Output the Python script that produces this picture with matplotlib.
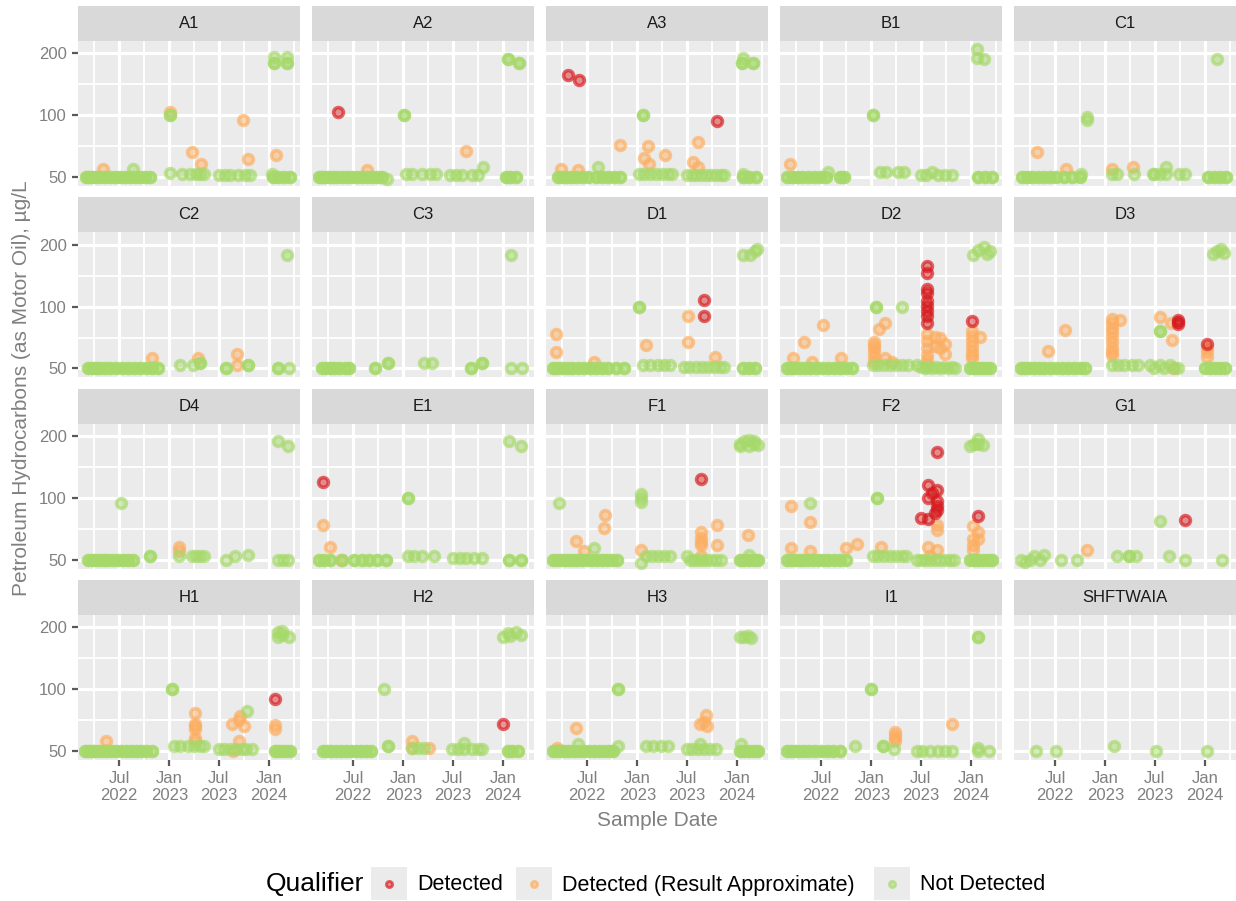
import numpy as np
import pandas as pd
import matplotlib
matplotlib.use("Agg")
import matplotlib.pyplot as plt
import matplotlib.dates as mdates
from matplotlib.ticker import FixedLocator, FixedFormatter, NullFormatter
from matplotlib.patches import Rectangle
from matplotlib.colors import to_rgba

plt.rcParams['font.family'] = ['Liberation Sans', 'DejaVu Sans']

# Qualifier codes: D = Detected, J = Detected (Result Approximate), N = Not Detected
# *_base : sampling dates with Not Detected results at the 50 ug/L reporting limit
#          (BASE_REPEATS results per date: the clusters in the chart are fully overlapped)
# *_pts  : every other result as (date, value, qualifier)
BASE_REPEATS = 2

a1_base = ["2022-03-02", "2022-03-13", "2022-03-24", "2022-04-08", "2022-04-23", "2022-05-10", "2022-05-29",
           "2022-06-16", "2022-07-05", "2022-07-23", "2022-08-10", "2022-08-29", "2022-09-16", "2022-10-04",
           "2022-10-23", "2024-01-16", "2024-02-03", "2024-02-25", "2024-03-18"]
a1_pts = [("2022-05-04", 55, "J"), ("2022-08-21", 55, "N"),
          ("2023-01-04", 100, "N"), ("2023-01-04", 100, "N"), ("2023-01-04", 104, "J"), ("2023-01-04", 52.6, "N"),
          ("2023-02-17", 52, "N"), ("2023-03-18", 52, "N"), ("2023-04-09", 52, "N"), ("2023-04-24", 52, "N"),
          ("2023-05-08", 52, "N"), ("2023-03-25", 66, "J"), ("2023-04-27", 58, "J"),
          ("2023-07-02", 51, "N"), ("2023-07-24", 51, "N"), ("2023-08-11", 51, "N"), ("2023-09-10", 51, "N"),
          ("2023-10-05", 51, "N"), ("2023-10-24", 51, "N"), ("2023-09-28", 95, "J"), ("2023-10-16", 61, "J"),
          ("2024-01-19", 179, "N"), ("2024-01-19", 179, "N"), ("2024-01-19", 192, "N"),
          ("2024-03-07", 179, "N"), ("2024-03-07", 179, "N"), ("2024-03-07", 192, "N"),
          ("2024-01-27", 64, "J"), ("2024-01-12", 52, "N")]

a2_base = ["2022-02-27", "2022-03-10", "2022-03-21", "2022-04-04", "2022-04-19", "2022-05-04", "2022-05-22",
           "2022-06-09", "2022-06-27", "2022-07-16", "2022-08-03", "2022-08-21", "2022-09-09", "2022-09-27",
           "2022-10-15", "2024-01-12", "2024-01-27", "2024-02-18"]
a2_pts = [("2022-11-03", 49, "N"), ("2022-05-07", 104, "D"), ("2022-08-21", 54, "J"),
          ("2023-01-04", 100, "N"), ("2023-01-04", 100, "N"),
          ("2023-01-11", 52, "N"), ("2023-02-02", 52, "N"), ("2023-03-11", 52, "N"), ("2023-04-09", 52, "N"),
          ("2023-05-01", 52, "N"), ("2023-08-19", 67, "J"),
          ("2023-06-21", 51, "N"), ("2023-07-13", 51, "N"), ("2023-08-04", 51, "N"), ("2023-09-10", 51, "N"),
          ("2023-10-02", 51, "N"), ("2023-10-20", 56, "N"),
          ("2024-01-19", 189, "N"), ("2024-01-19", 189, "N"), ("2024-02-28", 179, "N"), ("2024-02-28", 179, "N")]

a3_base = ["2022-03-17", "2022-04-01", "2022-04-15", "2022-05-04", "2022-05-22", "2022-06-13", "2022-07-05",
           "2022-08-03", "2022-08-25", "2022-09-16", "2022-10-08", "2022-10-30", "2024-01-23", "2024-02-14",
           "2024-03-11"]
a3_pts = [("2022-03-28", 55, "J"), ("2022-05-29", 54, "J"), ("2022-08-10", 56, "N"),
          ("2022-04-23", 158, "D"), ("2022-06-01", 149, "D"), ("2022-10-30", 72, "J"),
          ("2023-01-22", 100, "N"), ("2023-01-22", 100, "N"),
          ("2023-02-09", 71, "J"), ("2023-01-26", 62, "J"), ("2023-02-13", 58, "J"), ("2023-04-12", 64, "J"),
          ("2023-01-08", 52, "N"), ("2023-01-26", 52, "N"), ("2023-02-17", 52, "N"), ("2023-03-11", 52, "N"),
          ("2023-04-02", 52, "N"), ("2023-04-24", 52, "N"), ("2023-05-08", 52, "N"),
          ("2023-08-11", 74, "J"), ("2023-10-20", 94, "D"), ("2023-07-24", 59, "J"), ("2023-08-11", 56, "J"),
          ("2023-07-02", 51, "N"), ("2023-07-20", 51, "N"), ("2023-08-04", 51, "N"), ("2023-08-22", 51, "N"),
          ("2023-09-10", 51, "N"), ("2023-09-28", 51, "N"), ("2023-10-16", 51, "N"), ("2023-11-04", 51, "N"),
          ("2023-11-14", 51, "N"),
          ("2024-01-19", 179, "N"), ("2024-01-19", 179, "N"), ("2024-02-28", 179, "N"), ("2024-02-28", 179, "N"),
          ("2024-01-23", 190, "N"), ("2024-01-23", 52, "N")]

b1_base = ["2022-02-27", "2022-03-17", "2022-04-04", "2022-04-23", "2022-05-14", "2022-06-05", "2022-06-27",
           "2022-07-19", "2022-09-09", "2022-09-23", "2024-01-27", "2024-02-21", "2024-03-18"]
b1_pts = [("2022-03-10", 58, "J"), ("2022-07-27", 53, "N"),
          ("2023-01-08", 100, "N"), ("2023-01-08", 100, "N"),
          ("2023-02-02", 53, "N"), ("2023-02-24", 53, "N"), ("2023-04-09", 53, "N"), ("2023-05-01", 53, "N"),
          ("2023-07-02", 51, "N"), ("2023-07-20", 51, "N"), ("2023-08-11", 53, "N"), ("2023-09-02", 51, "N"),
          ("2023-09-28", 51, "N"), ("2023-10-24", 51, "N"),
          ("2024-01-23", 211, "N"), ("2024-01-23", 190, "N"), ("2024-02-18", 189, "N")]

c1_base = ["2022-03-02", "2022-03-21", "2022-04-08", "2022-04-30", "2022-05-22", "2022-06-13", "2022-07-05",
           "2022-08-03", "2022-09-01", "2022-10-01", "2024-01-12", "2024-02-03", "2024-02-25", "2024-03-18"]
c1_pts = [("2022-04-26", 66, "J"), ("2022-08-10", 55, "J"), ("2022-10-05", 52, "N"),
          ("2022-10-27", 95, "N"), ("2022-10-27", 98, "N"),
          ("2023-01-26", 55, "J"), ("2023-04-12", 56, "J"),
          ("2023-01-26", 52, "N"), ("2023-02-13", 52, "N"), ("2023-04-16", 52, "N"), ("2023-06-28", 52, "N"),
          ("2023-07-20", 52, "N"), ("2023-08-11", 52, "N"), ("2023-09-28", 52, "N"), ("2023-10-20", 52, "N"),
          ("2023-06-24", 52, "N"), ("2023-08-11", 56, "N"), ("2024-02-14", 189, "N")]

c2_base = ["2022-03-10", "2022-03-24", "2022-04-08", "2022-04-23", "2022-05-11", "2022-05-29", "2022-06-20",
           "2022-07-12", "2022-08-03", "2022-08-25", "2022-09-16", "2022-10-08", "2022-10-30", "2022-11-21"]
c2_pts = [("2022-10-30", 56, "J"),
          ("2023-02-09", 52, "N"), ("2023-03-29", 52, "N"), ("2023-04-24", 53, "N"), ("2023-04-24", 53, "N"),
          ("2023-04-16", 56, "J"), ("2023-09-06", 59, "J"), ("2023-09-06", 52, "J"),
          ("2023-07-28", 50, "N"), ("2023-07-28", 50, "N"), ("2023-10-16", 52, "N"), ("2023-10-16", 52, "N"),
          ("2024-02-03", 50, "N"), ("2024-02-03", 50, "N"), ("2024-03-14", 50, "N"), ("2024-03-07", 179, "N")]

c3_base = ["2022-03-10", "2022-03-24", "2022-04-08", "2022-04-23", "2022-05-11", "2022-06-01", "2022-06-16"]
c3_pts = [("2022-09-20", 50, "N"), ("2022-09-20", 50, "N"), ("2022-11-06", 53, "N"), ("2022-11-06", 53, "N"),
          ("2023-03-18", 53, "N"), ("2023-04-16", 53, "N"),
          ("2023-09-06", 50, "N"), ("2023-09-06", 50, "N"), ("2023-10-16", 53, "N"), ("2023-10-16", 53, "N"),
          ("2024-01-30", 50, "N"), ("2024-03-11", 50, "N"), ("2024-01-30", 179, "N")]

d1_base = ["2022-02-27", "2022-03-13", "2022-04-01", "2022-04-19", "2022-05-07", "2022-05-29", "2022-06-20",
           "2022-07-12", "2022-08-03", "2022-08-25", "2022-09-16", "2022-10-15", "2022-11-13", "2024-01-23",
           "2024-02-14", "2024-03-07"]
d1_pts = [("2022-03-10", 74, "J"), ("2022-03-10", 60, "J"), ("2022-07-27", 54, "J"),
          ("2023-01-08", 100, "N"), ("2023-01-08", 100, "N"), ("2023-02-02", 65, "J"),
          ("2023-01-22", 52, "N"), ("2023-02-17", 52, "N"), ("2023-03-18", 52, "N"), ("2023-04-09", 52, "N"),
          ("2023-05-01", 52, "N"),
          ("2023-07-06", 90, "J"), ("2023-07-06", 67, "J"), ("2023-09-02", 108, "D"), ("2023-09-02", 90, "D"),
          ("2023-10-12", 57, "J"),
          ("2023-06-21", 51, "N"), ("2023-07-09", 51, "N"), ("2023-08-04", 51, "N"), ("2023-08-26", 51, "N"),
          ("2023-09-17", 51, "N"), ("2023-10-09", 51, "N"), ("2023-10-31", 51, "N"), ("2023-11-14", 51, "N"),
          ("2024-01-23", 179, "N"), ("2024-02-18", 179, "N"), ("2024-03-07", 186, "N"), ("2024-03-14", 190, "N")]

d2_base = ["2022-02-27", "2022-03-13", "2022-03-28", "2022-04-15", "2022-05-04", "2022-05-22", "2022-06-13",
           "2022-07-05", "2022-07-27", "2022-08-18", "2022-09-09", "2022-10-01", "2022-10-23", "2023-12-28",
           "2024-01-12", "2024-01-27", "2024-02-10", "2024-02-25", "2024-03-11"]
d2_pts = [("2022-03-21", 56, "J"), ("2022-04-30", 67, "J"), ("2022-05-29", 54, "J"), ("2022-07-08", 81, "J"),
          ("2022-09-13", 56, "J"),
          ("2023-01-11", 54, "J"), ("2023-01-11", 57, "J"), ("2023-01-11", 60, "J"), ("2023-01-11", 63, "J"),
          ("2023-01-11", 65, "J"), ("2023-01-11", 67, "J"),
          ("2023-01-29", 78, "J"), ("2023-02-20", 83, "J"), ("2023-02-20", 56, "J"), ("2023-03-18", 54, "J"),
          ("2023-01-18", 100, "N"), ("2023-01-18", 100, "N"), ("2023-04-24", 100, "N"),
          ("2023-01-08", 52, "N"), ("2023-01-26", 52, "N"), ("2023-02-17", 52, "N"), ("2023-03-11", 52, "N"),
          ("2023-04-02", 52, "N"), ("2023-04-24", 52, "N"), ("2023-05-15", 52, "N"),
          ("2023-07-24", 158, "D"), ("2023-07-24", 145, "D"), ("2023-07-24", 122, "D"), ("2023-07-24", 116, "D"),
          ("2023-07-24", 106, "D"), ("2023-07-24", 101, "D"), ("2023-07-24", 95, "D"), ("2023-07-24", 90, "D"),
          ("2023-07-24", 83, "D"),
          ("2023-07-24", 74, "J"), ("2023-07-24", 68, "J"), ("2023-07-24", 63, "J"), ("2023-07-24", 58, "J"),
          ("2023-07-24", 55, "J"), ("2023-07-24", 52, "J"),
          ("2023-08-22", 71, "J"), ("2023-08-22", 64, "J"), ("2023-09-10", 70, "J"), ("2023-09-10", 63, "J"),
          ("2023-09-28", 59, "J"), ("2023-09-28", 66, "J"),
          ("2024-01-05", 85, "D"),
          ("2024-01-05", 76, "J"), ("2024-01-05", 72, "J"), ("2024-01-05", 68, "J"), ("2024-01-05", 64, "J"),
          ("2024-01-05", 61, "J"), ("2024-01-05", 58, "J"), ("2024-01-05", 56, "J"), ("2024-02-03", 71, "J"),
          ("2023-06-17", 52, "N"), ("2023-07-02", 51, "N"), ("2023-07-17", 50, "N"), ("2023-07-28", 51, "N"),
          ("2023-08-11", 50, "N"), ("2023-08-26", 51, "N"), ("2023-09-10", 50, "N"), ("2023-09-24", 51, "N"),
          ("2023-10-09", 50, "N"), ("2023-10-24", 51, "N"), ("2023-11-04", 50, "N"),
          ("2024-01-08", 179, "N"), ("2024-01-27", 188, "N"), ("2024-02-18", 194, "N"), ("2024-03-11", 186, "N"),
          ("2024-02-28", 180, "N")]

d3_base = ["2022-02-27", "2022-03-13", "2022-03-28", "2022-04-15", "2022-05-04", "2022-05-22", "2022-06-13",
           "2022-07-05", "2022-07-27", "2022-08-18", "2022-09-09", "2022-10-01", "2022-10-19", "2024-01-01",
           "2024-01-19", "2024-02-06", "2024-02-25", "2024-03-14"]
d3_pts = [("2022-06-05", 61, "J"), ("2022-08-07", 77, "J"),
          ("2023-01-26", 87, "J"), ("2023-01-26", 83, "J"), ("2023-01-26", 79, "J"), ("2023-01-26", 75, "J"),
          ("2023-01-26", 71, "J"), ("2023-01-26", 67, "J"), ("2023-01-26", 63, "J"), ("2023-01-26", 60, "J"),
          ("2023-01-26", 58, "J"), ("2023-02-24", 86, "J"),
          ("2023-01-26", 52, "N"), ("2023-02-17", 52, "N"), ("2023-03-11", 52, "N"), ("2023-04-09", 52, "N"),
          ("2023-05-01", 52, "N"),
          ("2023-07-20", 89, "J"), ("2023-08-30", 83, "J"), ("2023-07-20", 76, "N"), ("2023-07-20", 76, "N"),
          ("2023-09-02", 69, "J"), ("2023-09-24", 82, "D"), ("2023-09-24", 84, "D"), ("2023-09-24", 86, "D"),
          ("2023-09-06", 50, "J"),
          ("2023-06-14", 52, "N"), ("2023-06-28", 50, "N"), ("2023-07-20", 52, "N"), ("2023-08-04", 50, "N"),
          ("2023-08-26", 52, "N"), ("2023-09-10", 50, "N"), ("2023-09-24", 50, "N"),
          ("2024-01-08", 66, "D"), ("2024-01-08", 63, "J"), ("2024-01-08", 60, "J"), ("2024-01-08", 57, "J"),
          ("2024-01-30", 181, "N"), ("2024-02-14", 186, "N"), ("2024-02-28", 190, "N"), ("2024-03-11", 183, "N")]

d4_base = ["2022-03-10", "2022-03-24", "2022-04-08", "2022-04-23", "2022-05-07", "2022-05-22", "2022-06-09",
           "2022-06-27", "2022-07-16", "2022-08-03", "2022-08-21"]
d4_pts = [("2022-07-08", 95, "N"), ("2022-10-23", 52, "N"), ("2022-10-23", 52, "N"),
          ("2023-02-06", 58, "J"), ("2023-02-06", 55, "J"), ("2023-02-06", 52, "N"),
          ("2023-03-25", 52, "N"), ("2023-04-09", 52, "N"), ("2023-04-24", 52, "N"), ("2023-05-08", 52, "N"),
          ("2023-07-28", 50, "N"), ("2023-08-30", 52, "N"), ("2023-10-16", 53, "N"),
          ("2024-02-03", 189, "N"), ("2024-03-11", 179, "N"),
          ("2024-02-03", 50, "N"), ("2024-02-21", 50, "N"), ("2024-03-11", 50, "N")]

e1_base = ["2022-02-27", "2022-03-17", "2022-04-08", "2022-05-22", "2022-07-05", "2022-08-03", "2022-08-29",
           "2022-09-27", "2022-10-30"]
e1_pts = [("2022-03-13", 120, "D"), ("2022-03-13", 74, "J"), ("2022-04-08", 58, "J"), ("2022-05-18", 50, "J"),
          ("2023-01-18", 100, "N"), ("2023-01-18", 100, "N"),
          ("2023-01-18", 52, "N"), ("2023-02-09", 52, "N"), ("2023-03-11", 52, "N"), ("2023-04-24", 52, "N"),
          ("2023-07-02", 51, "N"), ("2023-07-28", 51, "N"), ("2023-08-19", 51, "N"), ("2023-09-17", 51, "N"),
          ("2023-10-16", 51, "N"),
          ("2024-01-23", 189, "N"), ("2024-03-07", 179, "N"),
          ("2024-01-23", 50, "N"), ("2024-01-23", 50, "N"), ("2024-03-07", 50, "N"), ("2024-03-07", 50, "N")]

f1_base = ["2022-02-27", "2022-03-13", "2022-03-28", "2022-04-11", "2022-04-26", "2022-05-11", "2022-05-25",
           "2022-06-13", "2022-07-01", "2022-07-19", "2022-08-07", "2022-08-25", "2022-09-13", "2022-10-01",
           "2022-10-19", "2024-01-12", "2024-01-27", "2024-02-14", "2024-03-03", "2024-03-18"]
f1_pts = [("2022-03-21", 95, "N"), ("2022-05-22", 62, "J"), ("2022-06-20", 55, "J"), ("2022-07-27", 57, "N"),
          ("2022-09-05", 83, "J"), ("2022-09-01", 71, "J"),
          ("2023-01-15", 96, "N"), ("2023-01-15", 100, "N"), ("2023-01-15", 104, "N"), ("2023-01-15", 56, "J"),
          ("2023-01-15", 48, "N"),
          ("2023-02-02", 52, "N"), ("2023-02-24", 52, "N"), ("2023-03-18", 52, "N"), ("2023-04-09", 52, "N"),
          ("2023-05-01", 52, "N"), ("2023-07-02", 52, "N"),
          ("2023-08-22", 68, "J"), ("2023-08-22", 64, "J"), ("2023-08-22", 61, "J"), ("2023-08-22", 59, "J"),
          ("2023-08-22", 52, "J"), ("2023-08-22", 124, "D"),
          ("2023-10-20", 74, "J"), ("2023-10-20", 59, "J"),
          ("2023-07-13", 50, "N"), ("2023-07-28", 50, "N"), ("2023-08-11", 50, "N"), ("2023-08-26", 50, "N"),
          ("2023-09-10", 50, "N"), ("2023-09-28", 50, "N"), ("2023-10-16", 50, "N"), ("2023-11-04", 50, "N"),
          ("2024-02-10", 66, "J"),
          ("2024-01-12", 179, "N"), ("2024-01-12", 184, "N"), ("2024-01-27", 190, "N"), ("2024-02-14", 179, "N"),
          ("2024-02-14", 192, "N"), ("2024-03-03", 184, "N"), ("2024-03-03", 190, "N"), ("2024-03-18", 180, "N"),
          ("2024-02-14", 53, "N")]

f2_base = ["2022-02-27", "2022-03-13", "2022-03-28", "2022-04-11", "2022-04-26", "2022-05-14", "2022-06-01",
           "2022-06-20", "2022-07-08", "2022-07-27", "2022-08-18", "2022-09-09", "2022-10-01", "2023-12-28",
           "2024-01-12", "2024-01-27", "2024-02-14", "2024-03-03", "2024-03-18"]
f2_pts = [("2022-03-13", 91, "J"), ("2022-03-13", 57, "J"), ("2022-05-22", 94, "N"), ("2022-05-22", 76, "J"),
          ("2022-05-22", 55, "J"), ("2022-10-01", 57, "J"), ("2022-11-10", 60, "J"),
          ("2023-01-22", 100, "N"), ("2023-01-22", 100, "N"), ("2023-02-06", 58, "J"),
          ("2023-01-08", 52, "N"), ("2023-01-26", 52, "N"), ("2023-02-17", 52, "N"), ("2023-03-11", 52, "N"),
          ("2023-04-02", 52, "N"), ("2023-04-24", 52, "N"), ("2023-05-08", 52, "N"),
          ("2023-07-02", 80, "D"), ("2023-07-28", 79, "D"), ("2023-07-28", 116, "D"), ("2023-07-28", 100, "D"),
          ("2023-08-11", 106, "D"), ("2023-08-30", 109, "D"), ("2023-08-30", 97, "D"), ("2023-08-30", 91, "D"),
          ("2023-08-30", 87, "D"), ("2023-08-22", 84, "D"), ("2023-08-30", 167, "D"),
          ("2023-08-30", 74, "J"), ("2023-08-30", 70, "J"), ("2023-07-28", 58, "J"), ("2023-08-30", 56, "J"),
          ("2023-08-04", 52, "J"),
          ("2023-06-17", 50, "N"), ("2023-07-02", 50, "N"), ("2023-07-17", 50, "N"), ("2023-08-04", 50, "N"),
          ("2023-08-22", 50, "N"), ("2023-09-10", 50, "N"), ("2023-09-28", 50, "N"), ("2023-10-16", 50, "N"),
          ("2023-10-31", 50, "N"),
          ("2024-01-27", 82, "D"),
          ("2024-01-08", 73, "J"), ("2024-01-08", 63, "J"), ("2024-01-08", 59, "J"), ("2024-01-27", 68, "J"),
          ("2024-01-27", 63, "J"), ("2024-01-08", 56, "J"),
          ("2023-12-28", 179, "N"), ("2024-01-12", 183, "N"), ("2024-01-27", 194, "N"), ("2024-01-27", 183, "N"),
          ("2024-02-14", 180, "N")]

g1_base = []
g1_pts = [("2022-02-27", 50, "N"), ("2022-03-13", 49, "N"), ("2022-04-01", 50, "N"), ("2022-04-15", 52, "N"),
          ("2022-05-07", 50, "N"), ("2022-05-22", 53, "N"), ("2022-07-23", 50, "N"), ("2022-09-20", 50, "N"),
          ("2022-10-27", 56, "J"),
          ("2023-02-13", 52, "N"), ("2023-03-29", 52, "N"), ("2023-03-29", 52, "N"), ("2023-04-24", 52, "N"),
          ("2023-07-20", 77, "N"), ("2023-08-22", 52, "N"), ("2023-10-20", 78, "D"), ("2023-10-20", 50, "N"),
          ("2024-03-03", 50, "N")]

h1_base = ["2022-02-27", "2022-03-10", "2022-03-21", "2022-04-01", "2022-04-15", "2022-04-30", "2022-05-14",
           "2022-06-01", "2022-06-20", "2022-07-08", "2022-07-27", "2022-08-14", "2022-09-01", "2022-09-20",
           "2022-10-08", "2022-10-30", "2024-01-23", "2024-02-03", "2024-02-18", "2024-03-03", "2024-03-18"]
h1_pts = [("2022-05-14", 56, "J"),
          ("2023-01-11", 100, "N"), ("2023-01-11", 100, "N"),
          ("2023-01-18", 53, "N"), ("2023-02-09", 53, "N"), ("2023-03-11", 53, "N"), ("2023-04-02", 53, "N"),
          ("2023-04-24", 53, "N"), ("2023-05-08", 53, "N"),
          ("2023-04-05", 77, "J"), ("2023-04-05", 68, "J"), ("2023-04-05", 66, "J"), ("2023-04-05", 64, "J"),
          ("2023-04-05", 58, "J"), ("2023-04-05", 56, "J"),
          ("2023-07-02", 51, "N"), ("2023-07-20", 51, "N"), ("2023-08-11", 51, "N"), ("2023-09-02", 51, "N"),
          ("2023-09-24", 51, "N"), ("2023-10-09", 51, "N"), ("2023-10-31", 51, "N"),
          ("2023-08-19", 68, "J"), ("2023-09-17", 74, "J"), ("2023-10-02", 66, "J"), ("2023-09-13", 71, "J"),
          ("2023-09-13", 56, "J"), ("2023-08-22", 50, "J"), ("2023-10-12", 78, "N"),
          ("2024-01-23", 90, "D"), ("2024-01-23", 67, "J"), ("2024-01-23", 64, "J"),
          ("2024-02-03", 180, "N"), ("2024-02-03", 190, "N"), ("2024-02-18", 193, "N"), ("2024-02-18", 183, "N"),
          ("2024-03-14", 179, "N")]

h2_base = ["2022-03-13", "2022-03-28", "2022-04-11", "2022-04-30", "2022-05-18", "2022-06-05", "2022-06-24",
           "2022-07-12", "2022-07-30", "2022-08-18", "2022-09-05", "2024-01-19", "2024-02-03", "2024-02-25"]
h2_pts = [("2022-10-23", 100, "N"), ("2022-11-06", 53, "N"), ("2022-11-06", 53, "N"),
          ("2023-02-02", 56, "J"), ("2023-02-02", 52, "J"), ("2023-04-05", 52, "J"),
          ("2023-02-02", 52, "N"), ("2023-02-24", 52, "N"), ("2023-03-18", 52, "N"),
          ("2023-06-28", 51, "N"), ("2023-07-20", 51, "N"), ("2023-08-11", 51, "N"), ("2023-09-10", 51, "N"),
          ("2023-10-02", 51, "N"), ("2023-10-16", 51, "N"), ("2023-08-11", 55, "N"),
          ("2024-01-01", 68, "D"),
          ("2024-01-01", 179, "N"), ("2024-01-19", 188, "N"), ("2024-02-18", 190, "N"), ("2024-03-07", 183, "N"),
          ("2024-01-27", 181, "N")]

h3_base = ["2022-02-27", "2022-03-13", "2022-03-28", "2022-04-11", "2022-04-26", "2022-05-14", "2022-06-01",
           "2022-06-20", "2022-07-08", "2022-07-27", "2022-08-14", "2022-09-01", "2022-09-20", "2022-10-05",
           "2024-01-12", "2024-01-27", "2024-02-14", "2024-03-03", "2024-03-18"]
h3_pts = [("2022-03-13", 52, "J"), ("2022-05-22", 65, "J"), ("2022-05-29", 54, "N"),
          ("2022-10-23", 100, "N"), ("2022-10-23", 100, "N"), ("2022-10-23", 53, "N"),
          ("2023-02-02", 53, "N"), ("2023-02-28", 53, "N"), ("2023-03-29", 53, "N"), ("2023-04-24", 53, "N"),
          ("2023-07-02", 51, "N"), ("2023-07-20", 51, "N"), ("2023-08-11", 51, "N"), ("2023-09-02", 51, "N"),
          ("2023-09-24", 51, "N"), ("2023-10-16", 51, "N"),
          ("2023-09-10", 75, "J"), ("2023-08-19", 68, "J"), ("2023-09-13", 66, "J"), ("2023-09-02", 69, "J"),
          ("2023-08-19", 54, "N"),
          ("2024-01-12", 180, "N"), ("2024-01-27", 180, "N"), ("2024-02-10", 182, "N"), ("2024-02-21", 178, "N"),
          ("2024-01-16", 54, "N")]

i1_base = ["2022-02-27", "2022-03-13", "2022-03-28", "2022-04-11", "2022-04-30", "2022-05-18", "2022-06-09",
           "2022-07-01", "2022-07-23", "2022-08-14", "2022-09-09"]
i1_pts = [("2022-11-03", 53, "N"), ("2023-01-01", 100, "N"), ("2023-01-01", 100, "N"),
          ("2023-02-13", 53, "N"), ("2023-02-13", 53, "N"), ("2023-03-25", 51, "N"),
          ("2023-03-29", 62, "J"), ("2023-03-29", 60, "J"), ("2023-03-29", 58, "J"), ("2023-03-29", 56, "J"),
          ("2023-06-17", 50, "N"), ("2023-07-06", 50, "N"), ("2023-08-04", 50, "N"), ("2023-09-02", 50, "N"),
          ("2023-09-28", 50, "N"), ("2023-10-24", 50, "N"), ("2023-10-24", 68, "J"),
          ("2024-01-27", 179, "N"), ("2024-01-27", 179, "N"), ("2024-01-27", 52, "N"), ("2024-01-27", 50, "N"),
          ("2024-03-07", 50, "N")]

shft_base = []
shft_pts = [("2022-04-23", 50, "N"), ("2022-07-05", 50, "N"), ("2023-02-02", 53, "N"), ("2023-07-06", 50, "N"),
            ("2024-01-08", 50, "N")]

sites = ["A1", "A2", "A3", "B1", "C1", "C2", "C3", "D1", "D2", "D3",
         "D4", "E1", "F1", "F2", "G1", "H1", "H2", "H3", "I1", "SHFTWAIA"]
site_data = {
    "A1": (a1_base, a1_pts), "A2": (a2_base, a2_pts), "A3": (a3_base, a3_pts), "B1": (b1_base, b1_pts),
    "C1": (c1_base, c1_pts), "C2": (c2_base, c2_pts), "C3": (c3_base, c3_pts), "D1": (d1_base, d1_pts),
    "D2": (d2_base, d2_pts), "D3": (d3_base, d3_pts), "D4": (d4_base, d4_pts), "E1": (e1_base, e1_pts),
    "F1": (f1_base, f1_pts), "F2": (f2_base, f2_pts), "G1": (g1_base, g1_pts), "H1": (h1_base, h1_pts),
    "H2": (h2_base, h2_pts), "H3": (h3_base, h3_pts), "I1": (i1_base, i1_pts), "SHFTWAIA": (shft_base, shft_pts),
}

qual_order = ["J", "N", "D"]  # drawing order
qual_labels = {"D": "Detected", "J": "Detected (Result Approximate)", "N": "Not Detected"}
qual_colors = {"D": "#d7191c", "J": "#fdae61", "N": "#a6d96a"}

x_ticks = ["2022-07-01", "2023-01-01", "2023-07-01", "2024-01-01"]
x_tick_labels = ["Jul\n2022", "Jan\n2023", "Jul\n2023", "Jan\n2024"]
x_minor = ["2022-04-01", "2022-10-01", "2023-04-01", "2023-10-01", "2024-04-01"]
y_ticks = [50, 100, 200]

W, H = 1236, 901
fig = plt.figure(figsize=(W / 100, H / 100), dpi=100)


def px_rect(x, y, w, h):
    return [x / W, 1 - (y + h) / H, w / W, h / H]


def to_num(dates):
    return mdates.date2num(pd.to_datetime(dates).to_numpy())


TXT_GRAY = '#808080'
FACE_A, EDGE_A = 0.45, 0.66
xlim = to_num(["2022-02-01", "2024-04-23"])

for i, site in enumerate(sites):
    r, c = divmod(i, 5)
    left = 78 + 234 * c
    top = 6 + 191.3 * r

    # strip
    sax = fig.add_axes(px_rect(left, top, 222, 35))
    sax.set_facecolor('#d9d9d9')
    sax.set_xticks([])
    sax.set_yticks([])
    for sp in sax.spines.values():
        sp.set_visible(False)
    sax.text(0.5, 0.5, site, ha='center', va='center', fontsize=12, color='#1a1a1a', transform=sax.transAxes)

    # panel
    ax = fig.add_axes(px_rect(left, top + 35, 222, 145))
    ax.set_facecolor('#ebebeb')
    for sp in ax.spines.values():
        sp.set_visible(False)
    ax.set_yscale('log')
    ax.set_ylim(45.3, 230)
    ax.set_xlim(xlim[0], xlim[1])
    ax.yaxis.set_major_locator(FixedLocator(y_ticks))
    ax.yaxis.set_major_formatter(FixedFormatter([str(v) for v in y_ticks]))
    ax.yaxis.set_minor_locator(FixedLocator([np.sqrt(50 * 100), np.sqrt(100 * 200)]))
    ax.yaxis.set_minor_formatter(NullFormatter())
    ax.xaxis.set_major_locator(FixedLocator(to_num(x_ticks)))
    ax.xaxis.set_major_formatter(FixedFormatter(x_tick_labels))
    ax.xaxis.set_minor_locator(FixedLocator(to_num(x_minor)))
    ax.xaxis.set_minor_formatter(NullFormatter())
    ax.set_axisbelow(True)
    ax.grid(which='major', color='white', linewidth=2.3)
    ax.grid(which='minor', color='white', linewidth=1.3)
    ax.tick_params(which='minor', length=0)
    ax.tick_params(which='major', length=4, width=1.6, color='#5a5a5a',
                   labelsize=12, labelcolor=TXT_GRAY, pad=4)
    if c != 0:
        ax.tick_params(axis='y', which='major', length=0, labelleft=False)
    if r != 3:
        ax.tick_params(axis='x', which='major', length=0, labelbottom=False)

    base, pts = site_data[site]
    rows = [(d, 50, "N") for d in base for _ in range(BASE_REPEATS)] + list(pts)
    df = pd.DataFrame(rows, columns=["date", "value", "qual"])
    df["x"] = to_num(df["date"])
    for q in qual_order:
        sub = df[df["qual"] == q]
        if sub.empty:
            continue
        ax.scatter(sub["x"], sub["value"], s=50,
                   facecolors=[to_rgba(qual_colors[q], FACE_A)],
                   edgecolors=[to_rgba(qual_colors[q], EDGE_A)],
                   linewidths=2.6, zorder=3)

# overlay for titles and legend, in pixel coordinates
lax = fig.add_axes([0, 0, 1, 1])
lax.set_xlim(0, W)
lax.set_ylim(H, 0)
lax.axis('off')

lax.text(657, 820, "Sample Date", ha='center', va='center', fontsize=15, color=TXT_GRAY)
lax.text(22, 388, "Petroleum Hydrocarbons (as Motor Oil), µg/L", ha='center', va='center',
         rotation=90, fontsize=15, color=TXT_GRAY)

lax.text(266, 884, "Qualifier", ha='left', va='center', fontsize=19, color='black')
key_x = {"D": 389, "J": 534, "N": 892}
for q in ["D", "J", "N"]:
    cx = key_x[q]
    lax.add_patch(Rectangle((cx - 18, 867), 36, 33, facecolor='#ebebeb', edgecolor='none'))
    lax.scatter([cx], [884], s=20, facecolors=[to_rgba(qual_colors[q], FACE_A)],
                edgecolors=[to_rgba(qual_colors[q], EDGE_A)], linewidths=2.0)
    lax.text(cx + 28, 885, qual_labels[q], ha='left', va='center', fontsize=15.5, color='black')

fig.savefig("out.png", dpi=100)
